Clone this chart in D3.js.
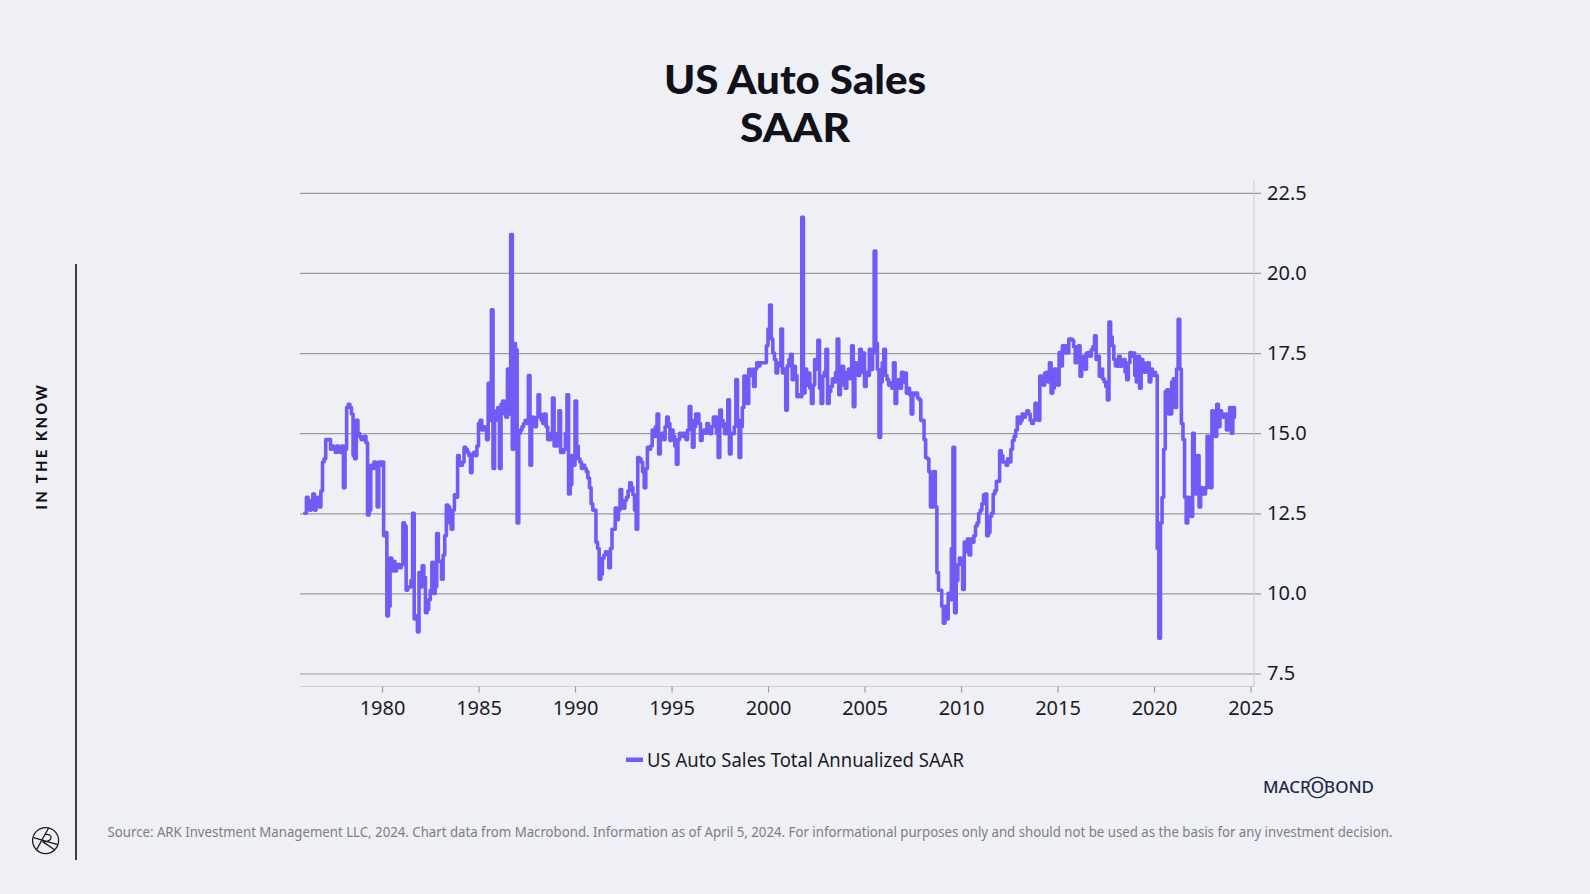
<!DOCTYPE html>
<html>
<head>
<meta charset="utf-8">
<script src="https://cdn.jsdelivr.net/npm/d3@7"></script>
<style>
  html, body { margin: 0; padding: 0; background: #eff0f5; }
  svg { display: block; }
</style>
</head>
<body>
<svg id="chart" width="1590" height="894"></svg>
<script>
// ---------------- DATA (monthly, millions of units, SAAR) ----------------
const startYear = 1976; // first value = January 1976
const sales1970s = [
  12.5, 13.0, 12.8, 12.6, 12.9, 13.1, 12.6, 12.9, 13.0, 12.7, 13.2, 14.1,
  14.2, 14.8, 14.8, 14.8, 14.5, 14.6, 14.5, 14.4, 14.6, 14.5, 14.4, 14.6,
  13.3, 14.5, 15.8, 15.9, 15.8, 15.6, 14.3, 14.2, 15.4, 15.0, 14.9, 14.8,
  14.8, 14.9, 14.7, 12.45, 12.6, 14.0, 13.9, 14.1, 13.9, 12.7, 14.1, 14.0
];
const sales1980s = [
  14.1, 11.8, 11.9, 9.3, 9.6, 11.1, 10.7, 11.0, 10.7, 10.9, 10.9, 10.8,
  10.9, 12.2, 12.1, 10.1, 10.2, 10.2, 10.4, 12.5, 9.2, 9.3, 8.8, 10.65,
  10.2, 10.86, 10.5, 9.4, 9.5, 9.8, 10.1, 10.97, 10.0, 10.2, 11.87, 11.0,
  11.0, 10.44, 11.2, 11.8, 12.76, 12.7, 12.2, 12.0, 12.6, 13.08, 13.0, 14.3,
  14.0, 14.0, 14.1, 14.56, 14.5, 14.4, 14.3, 13.77, 14.35, 14.4, 14.3, 14.6,
  15.3, 15.4, 15.1, 15.2, 15.1, 14.8, 16.56, 15.4, 18.85, 13.9, 15.4, 15.7,
  15.8, 13.9, 15.9, 16.0, 15.6, 15.5, 17.0, 15.6, 21.2, 14.5, 17.8, 17.6,
  12.2, 15.0, 15.1, 15.2, 15.3, 15.4, 15.3, 16.8, 14.0, 15.5, 15.3, 15.2,
  15.5, 16.2, 15.6, 15.4, 15.3, 15.6, 15.2, 14.8, 14.8, 15.0, 16.1, 14.6,
  14.6, 15.0, 15.7, 14.4, 14.4, 14.5, 15.0, 16.2, 13.1, 13.4, 14.3, 14.0
];
const sales1990s = [
  16.0, 14.6, 14.2, 14.1, 13.9, 14.0, 13.9, 13.8, 13.6, 13.3, 12.8, 12.6,
  12.6, 11.6, 11.4, 10.44, 10.6, 11.1, 11.2, 11.3, 11.28, 10.8, 11.4, 12.0,
  12.0, 12.66, 12.3, 12.6, 13.24, 12.9, 12.66, 12.9, 13.0, 13.2, 13.45, 13.3,
  13.08, 12.6, 12.0, 14.24, 14.2, 14.1, 13.8, 13.3, 13.9, 14.56, 14.5, 14.6,
  15.1, 14.9, 15.2, 15.6, 14.35, 14.9, 15.0, 14.8, 15.2, 15.5, 15.3, 14.77,
  15.1, 14.9, 14.6, 14.03, 14.8, 15.0, 15.0, 14.9, 15.0, 14.8, 15.1, 15.83,
  15.4, 14.56, 15.2, 15.6, 15.6, 15.3, 14.77, 15.0, 15.1, 15.0, 15.3, 15.2,
  14.98, 15.2, 15.5, 15.5, 15.0, 14.24, 15.72, 15.4, 15.2, 14.98, 15.3, 16.04,
  14.35, 15.0, 14.98, 15.2, 16.67, 15.4, 14.24, 15.2, 15.8, 16.78, 16.2, 15.93,
  16.99, 16.8, 16.99, 16.46, 17.0, 17.2, 17.1, 17.2, 17.2, 17.2, 17.2, 17.73
];
const sales2000s = [
  18.25, 19.0, 17.94, 17.5, 17.3, 16.88, 17.1, 17.2, 18.25, 16.88, 17.0, 15.72,
  17.1, 17.3, 17.46, 16.67, 17.09, 16.8, 16.14, 16.2, 16.14, 21.74, 16.25, 17.0,
  16.5, 16.88, 16.4, 15.93, 16.5, 17.3, 17.0, 17.9, 16.4, 15.93, 16.78, 16.9,
  17.62, 15.93, 16.3, 16.46, 16.7, 16.6, 16.9, 17.94, 16.2, 16.5, 17.09, 16.9,
  16.4, 16.8, 17.0, 16.7, 17.73, 15.83, 17.2, 16.99, 16.8, 17.62, 16.9, 17.5,
  16.46, 16.9, 16.8, 17.62, 16.99, 17.5, 20.68, 17.8, 16.99, 14.87, 16.6, 17.2,
  17.62, 16.8, 16.67, 16.5, 16.57, 16.4, 17.2, 15.93, 16.5, 16.67, 16.4, 16.9,
  16.6, 16.88, 16.25, 16.4, 16.2, 15.6, 16.25, 16.2, 16.25, 16.1, 16.04, 15.4,
  15.4, 14.8, 14.24, 14.2, 13.8, 12.7, 12.7, 13.8, 12.7, 10.65, 10.1, 10.1,
  9.6, 9.07, 9.6, 9.2, 10.0, 9.8, 11.4, 14.56, 9.4, 10.4, 10.9, 11.1
];
const sales2010s = [
  10.9, 10.12, 11.6, 11.3, 11.7, 11.2, 11.7, 11.6, 11.8, 12.1, 12.2, 12.5,
  12.6, 12.8, 13.08, 13.1, 11.8, 11.9, 12.4, 12.5, 13.1, 13.2, 13.5, 13.5,
  14.45, 14.3, 14.1, 14.1, 14.0, 14.2, 14.1, 14.5, 14.77, 14.9, 15.1, 15.5,
  15.3, 15.4, 15.6, 15.5, 15.6, 15.7, 15.6, 15.4, 15.3, 15.4, 15.93, 15.5,
  15.4, 16.78, 16.7, 16.5, 16.88, 16.9, 16.6, 17.2, 16.25, 16.4, 17.0, 16.8,
  16.5, 17.52, 17.1, 17.73, 17.5, 17.73, 17.5, 17.94, 17.94, 17.9, 17.7, 17.2,
  17.5, 17.73, 16.78, 17.3, 17.4, 17.0, 17.5, 17.52, 17.4, 17.6, 17.7, 18.04,
  17.3, 17.4, 16.78, 17.0, 16.7, 16.6, 16.46, 16.04, 18.47, 18.0, 17.73, 17.3,
  17.1, 17.09, 17.4, 17.09, 17.2, 17.3, 16.9, 16.67, 17.2, 17.52, 17.4, 17.5,
  16.8, 16.6, 17.4, 16.4, 17.3, 17.2, 16.9, 17.0, 17.2, 16.6, 17.0, 16.8
];
const sales2020s = [
  16.9, 16.8, 11.4, 8.6, 12.2, 13.0, 14.5, 16.3, 16.35, 15.6, 15.6, 16.6,
  16.7, 15.8, 17.0, 18.55, 17.0, 15.3, 14.8, 13.0, 12.2, 13.0, 12.9, 12.4,
  15.0, 13.2, 13.1, 14.3, 12.7, 13.3, 13.1, 13.1, 13.3, 14.9, 14.2, 13.3,
  15.7, 15.1, 14.9, 15.9, 15.2, 15.7, 15.6, 15.5, 15.6, 15.1, 15.4, 15.8,
  15.0, 15.8, 15.5
];
const xTickYears = [1980, 1985, 1990, 1995, 2000, 2005, 2010, 2015, 2020, 2025];
const yTickValues = [7.5, 10.0, 12.5, 15.0, 17.5, 20.0, 22.5];
const seriesName = "US Auto Sales Total Annualized SAAR";
const titleLines = ["US Auto Sales", "SAAR"];
const sourceText = "Source: ARK Investment Management LLC, 2024. Chart data from Macrobond. Information as of April 5, 2024. For informational purposes only and should not be used as the basis for any investment decision.";

// ---------------- BUILD ----------------
const values = [].concat(sales1970s, sales1980s, sales1990s, sales2000s, sales2010s, sales2020s);
const data = values.map((v, i) => ({ t: startYear + i / 12, v }));

const svg = d3.select("#chart");
const W = 1590, H = 894;
const lineColor = "#6f5cf6";
const font = "'Noto Sans', 'Open Sans', sans-serif";

svg.append("rect").attr("width", W).attr("height", H).attr("fill", "#eff0f5");

const plot = { left: 300, right: 1254, top: 180.5, bottom: 686.5 };
const x = d3.scaleLinear().domain([1975.75, 2025.18]).range([plot.left, plot.right]);
const y = d3.scaleLinear().domain([7.095, 22.885]).range([plot.bottom, plot.top]);

// Title
const titleWidths = [262, 110];
const title = svg.append("g").attr("font-family", "Lato, 'Noto Sans', sans-serif")
  .attr("font-weight", 900).attr("fill", "#111119").attr("text-anchor", "middle");
title.selectAll("text").data(titleLines).join("text")
  .attr("x", 795).attr("y", (d, i) => 93.5 + i * 48.5)
  .attr("font-size", 40.5)
  .attr("textLength", (d, i) => titleWidths[i]).attr("lengthAdjust", "spacingAndGlyphs")
  .text(d => d);

// Horizontal gridlines + right axis (gridlines extend past axis as tick marks)
const yAxis = d3.axisRight(y).tickValues(yTickValues)
  .tickSize(-(plot.right - plot.left)).tickPadding(12).tickFormat(d3.format(".1f"));
const gy = svg.append("g").attr("transform", `translate(${plot.right + 7},0)`).call(yAxis);
gy.select(".domain").remove();
gy.selectAll(".tick line").attr("x1", 0).attr("x2", -(plot.right + 7 - plot.left))
  .attr("stroke", "#9a9a9e").attr("stroke-width", 1.2);
gy.selectAll(".tick text").attr("font-family", font).attr("font-size", 20)
  .attr("fill", "#1b1b1f").attr("x", 6);

// Right axis line (light)
svg.append("line").attr("x1", plot.right).attr("x2", plot.right)
  .attr("y1", plot.top).attr("y2", plot.bottom).attr("stroke", "#cfd0d6").attr("stroke-width", 1.2);

// Bottom axis
const xAxis = d3.axisBottom(x).tickValues(xTickYears).tickSize(6).tickPadding(8).tickFormat(d3.format("d"));
const gx = svg.append("g").attr("transform", `translate(0,${plot.bottom})`).call(xAxis);
gx.select(".domain").attr("stroke", "#cfd0d6").attr("stroke-width", 1.2)
  .attr("d", `M${plot.left},0H${plot.right}`);
gx.selectAll(".tick line").attr("stroke", "#9a9a9e").attr("stroke-width", 1.2);
gx.selectAll(".tick text").attr("font-family", font).attr("font-size", 20).attr("fill", "#1b1b1f");

// Series line
const line = d3.line().x(d => x(d.t)).y(d => y(d.v)).curve(d3.curveStepAfter);
svg.append("path").datum(data).attr("d", line).attr("fill", "none")
  .attr("stroke", lineColor).attr("stroke-width", 3.6)
  .attr("stroke-linejoin", "round").attr("stroke-linecap", "round");

// Legend
const lg = svg.append("g");
lg.append("rect").attr("x", 626).attr("y", 757.5).attr("width", 17).attr("height", 4.5).attr("fill", lineColor);
lg.append("text").attr("x", 647).attr("y", 767).attr("font-family", font).attr("font-size", 20)
  .attr("fill", "#1b1b1f").attr("textLength", 317).attr("lengthAdjust", "spacingAndGlyphs").text(seriesName);

// Macrobond mark
const mb = svg.append("g");
const mbText = mb.append("text").attr("x", 1263).attr("y", 793).attr("font-family", font)
  .attr("font-size", 15.5).attr("font-weight", 500).attr("fill", "#1e2a47")
  .attr("textLength", 111).attr("lengthAdjust", "spacingAndGlyphs").text("MACROBOND");
try {
  const n = mbText.node();
  const p = n.getStartPositionOfChar(4);
  const e = n.getEndPositionOfChar(4);
  const cx = (p.x + e.x) / 2, cy = 787.5, r = 9.5;
  const arc = d3.arc().innerRadius(r).outerRadius(r + 1.3);
  mb.append("path").attr("transform", `translate(${cx},${cy})`)
    .attr("d", arc({ startAngle: -Math.PI * 0.32, endAngle: Math.PI * 0.32 })).attr("fill", "#1e2a47");
  mb.append("path").attr("transform", `translate(${cx},${cy})`)
    .attr("d", arc({ startAngle: Math.PI * 0.68, endAngle: Math.PI * 1.32 })).attr("fill", "#1e2a47");
} catch (err) {}

// Source footer
svg.append("text").attr("x", 107.5).attr("y", 837).attr("font-family", font).attr("font-size", 13.5)
  .attr("fill", "#7b7d85").attr("textLength", 1285).attr("lengthAdjust", "spacingAndGlyphs").text(sourceText);

// Left sidebar
svg.append("line").attr("x1", 76).attr("x2", 76).attr("y1", 264).attr("y2", 860)
  .attr("stroke", "#2a2a2e").attr("stroke-width", 1.8);
svg.append("text").attr("transform", "translate(47,446) rotate(-90)")
  .attr("text-anchor", "middle").attr("font-family", "Lato, 'Noto Sans', sans-serif")
  .attr("font-weight", 900).attr("font-size", 14.5).attr("letter-spacing", 2.6)
  .attr("fill", "#111119").text("IN THE KNOW");

// ARK logo mark
const logo = svg.append("g").attr("transform", "translate(45.6,840.6)")
  .attr("fill", "none").attr("stroke", "#1b1b1f").attr("stroke-width", 1.3);
logo.append("circle").attr("r", 13);
logo.append("path").attr("d", "M-9,9 L3,-12.6 M-12,-3 L12,4 M-1,-6 C8,-8 8,2 -3,1 M-3,1 L9,9.2");
</script>
</body>
</html>
